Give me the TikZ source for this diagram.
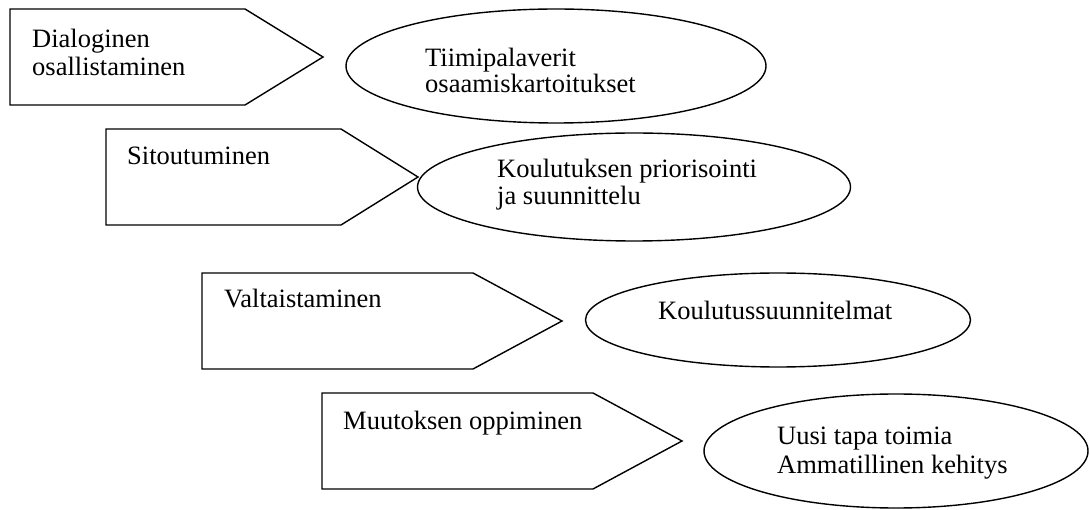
\documentclass[tikz,border=0pt]{standalone}
\usepackage{fontspec}
\setmainfont{Liberation Serif}
\usetikzlibrary{shapes.geometric}
\tikzset{
  shp/.style={draw=black, line width=1.4pt, line join=miter},
  oval/.style={ellipse, draw=black, line width=1.4pt, inner sep=0pt},
  txt/.style={anchor=base west, inner sep=0pt, font=\fontsize{26.5}{28}\selectfont},
}
\begin{document}
\begin{tikzpicture}[x=1pt,y=-1pt]
\useasboundingbox (0,0) rectangle (1090,510);
% pentagon arrows
\draw[shp] (10,9) -- (245,9) -- (323,57) -- (245,105) -- (10,105) -- cycle;
\draw[shp] (106,129) -- (341,129) -- (418,177) -- (341,225) -- (106,225) -- cycle;
\draw[shp] (202,273) -- (473,273) -- (562,321) -- (473,369) -- (202,369) -- cycle;
\draw[shp] (322,393) -- (593,393) -- (682,441) -- (593,489) -- (322,489) -- cycle;
% ellipses
\node[oval, minimum width=420pt, minimum height=114pt] (e1) at (556,66) {};
\node[oval, minimum width=433pt, minimum height=108pt] (e2) at (634,187) {};
\node[oval, minimum width=385pt, minimum height=94pt] (e3) at (778,320) {};
\node[oval, minimum width=384pt, minimum height=114pt] (e4) at (896,451) {};
% texts
\node[txt] (t1a) at (32,48) {Dialoginen};
\node[txt] (t1b) at (32,76) {osallistaminen};
\node[txt] (t2) at (127,165) {Sitoutuminen};
\node[txt] (t3) at (224,308) {Valtaistaminen};
\node[txt] (t4) at (343,430) {Muutoksen oppiminen};
\node[txt] (u1a) at (425,67) {Tiimipalaverit};
\node[txt] (u1b) at (425,93) {osaamiskartoitukset};
\node[txt] (u2a) at (497,178) {Koulutuksen priorisointi};
\node[txt] (u2b) at (497,205) {ja suunnittelu};
\node[txt] (u3) at (658,320) {Koulutussuunnitelmat};
\node[txt] (u4a) at (777,445) {Uusi tapa toimia};
\node[txt] (u4b) at (777,473) {Ammatillinen kehitys};
\end{tikzpicture}
\end{document}
